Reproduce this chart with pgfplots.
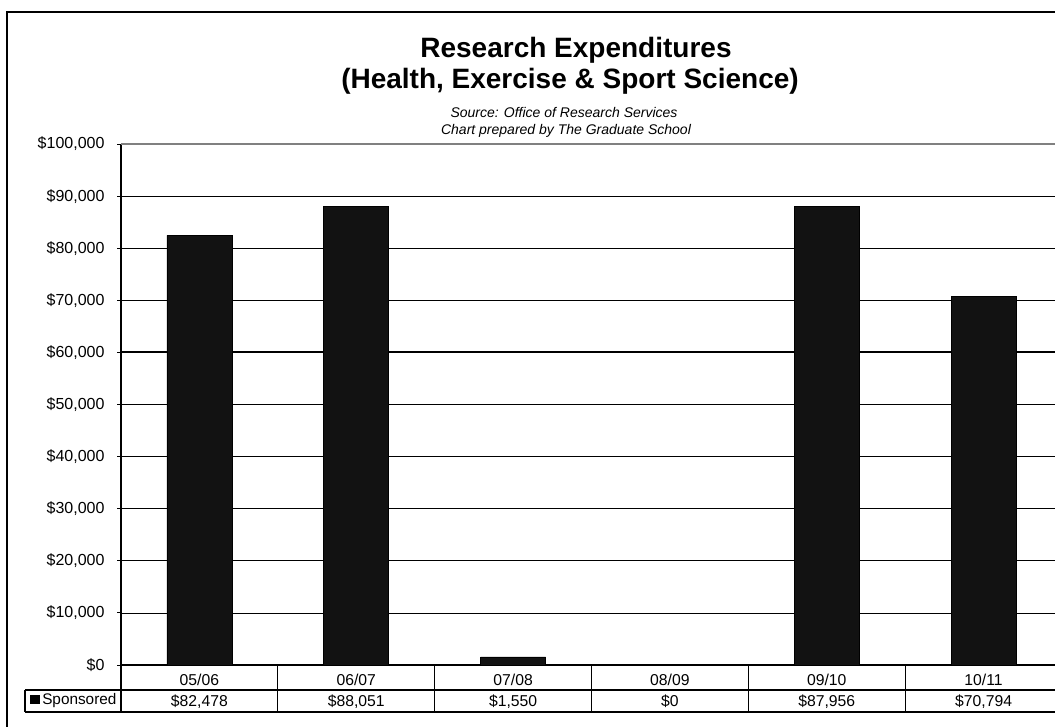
\documentclass[border=0pt]{standalone}
\usepackage{pgfplots}
\usepackage{pgfplotstable}
\pgfplotsset{compat=1.18}
\usepackage{fontspec}
\setmainfont{Liberation Sans}

% Sponsored research expenditures by fiscal year
\pgfplotstableread{
x value
0 82478
1 88051
2 1550
3 0
4 87956
5 70794
}\expdata

\begin{document}
\begin{tikzpicture}
\path[use as bounding box] (0,0) rectangle (791.25pt,-544.5pt);
\clip (0,0) rectangle (791.25pt,-544.5pt);
\begin{axis}[
  at={(90.75pt,-498.75pt)}, anchor=south west,
  scale only axis, width=705.75pt, height=390.75pt,
  xmin=-0.5, xmax=5.5, ymin=0, ymax=100000,
  clip=false,
  axis x line*=bottom, axis y line*=left,
  axis line style={black, line width=0.9pt, -},
  ytick={0,10000,...,100000},
  ymajorgrids, grid style={black, line width=0.6pt},
  extra y ticks={60000}, extra y tick labels={},
  extra y tick style={grid style={black, line width=1.6pt}, major tick length=0pt},
  tick align=outside, major tick length=3pt,
  ytick style={black, line width=0.75pt},
  xtick={0,...,5}, xtick style={draw=none},
  xticklabels={{05/06\\\$82,478},{06/07\\\$88,051},{07/08\\\$1,550},{08/09\\\$0},{09/10\\\$87,956},{10/11\\\$70,794}},
  xticklabel style={align=center, font=\fontsize{11.8}{15.75}\selectfont, anchor=north, inner sep=0pt, yshift=-3.6pt},
  yticklabel style={font=\fontsize{12}{14}\selectfont, inner sep=0pt, xshift=-9.2pt},
  scaled y ticks=false,
  yticklabel={\$\pgfmathprintnumber{\tick}},
  /pgf/number format/fixed,
  /pgf/number format/precision=0,
  /pgf/number format/1000 sep={,},
  /pgf/number format/assume math mode=true,
]
\addplot[ybar, bar width=0.4145, fill=black!93, draw=black, line width=0.5pt] table[x=x, y=value] {\expdata};
\draw[gray, line width=1.6pt] (rel axis cs:0,1) -- (rel axis cs:1,1);
\end{axis}
\begin{scope}[x=0.75pt, y=-0.75pt]
  % chart frame
  \draw[black, line width=1.5pt] (7,12) rectangle (1080,760);
  % data table grid
  \draw[black, line width=0.8pt] (25,690) -- (1070,690);
  \draw[black, line width=1.3pt] (25,712) -- (1070,712);
  \draw[black, line width=0.9pt] (25,690) -- (25,712);
  \draw[black, line width=1.1pt] (121,665) -- (121,712);
  \foreach \bx in {277.8,434.7,591.5,748.3,905.2}
    \draw[black, line width=0.8pt] (\bx,665) -- (\bx,712);
  % legend key and series name
  \fill[black] (30,695) rectangle (40,704);
  \node[anchor=west, inner sep=0pt, font=\fontsize{11.5}{13}\selectfont] at (42,701) {Sponsored};
  % titles
  \node[anchor=base, inner sep=0pt, font=\fontsize{21}{24}\selectfont\bfseries] at (576,57) {Research Expenditures};
  \node[anchor=base, inner sep=0pt, font=\fontsize{21}{24}\selectfont\bfseries] at (570,88) {(Health, Exercise \& Sport Science)};
  \node[anchor=base, inner sep=0pt, font=\fontsize{10.5}{13}\selectfont\itshape] at (564,117) {Source: Office of Research Services};
  \node[anchor=base, inner sep=0pt, font=\fontsize{10.5}{13}\selectfont\itshape] at (566,134) {Chart prepared by The Graduate School};
\end{scope}
\end{tikzpicture}
\end{document}
